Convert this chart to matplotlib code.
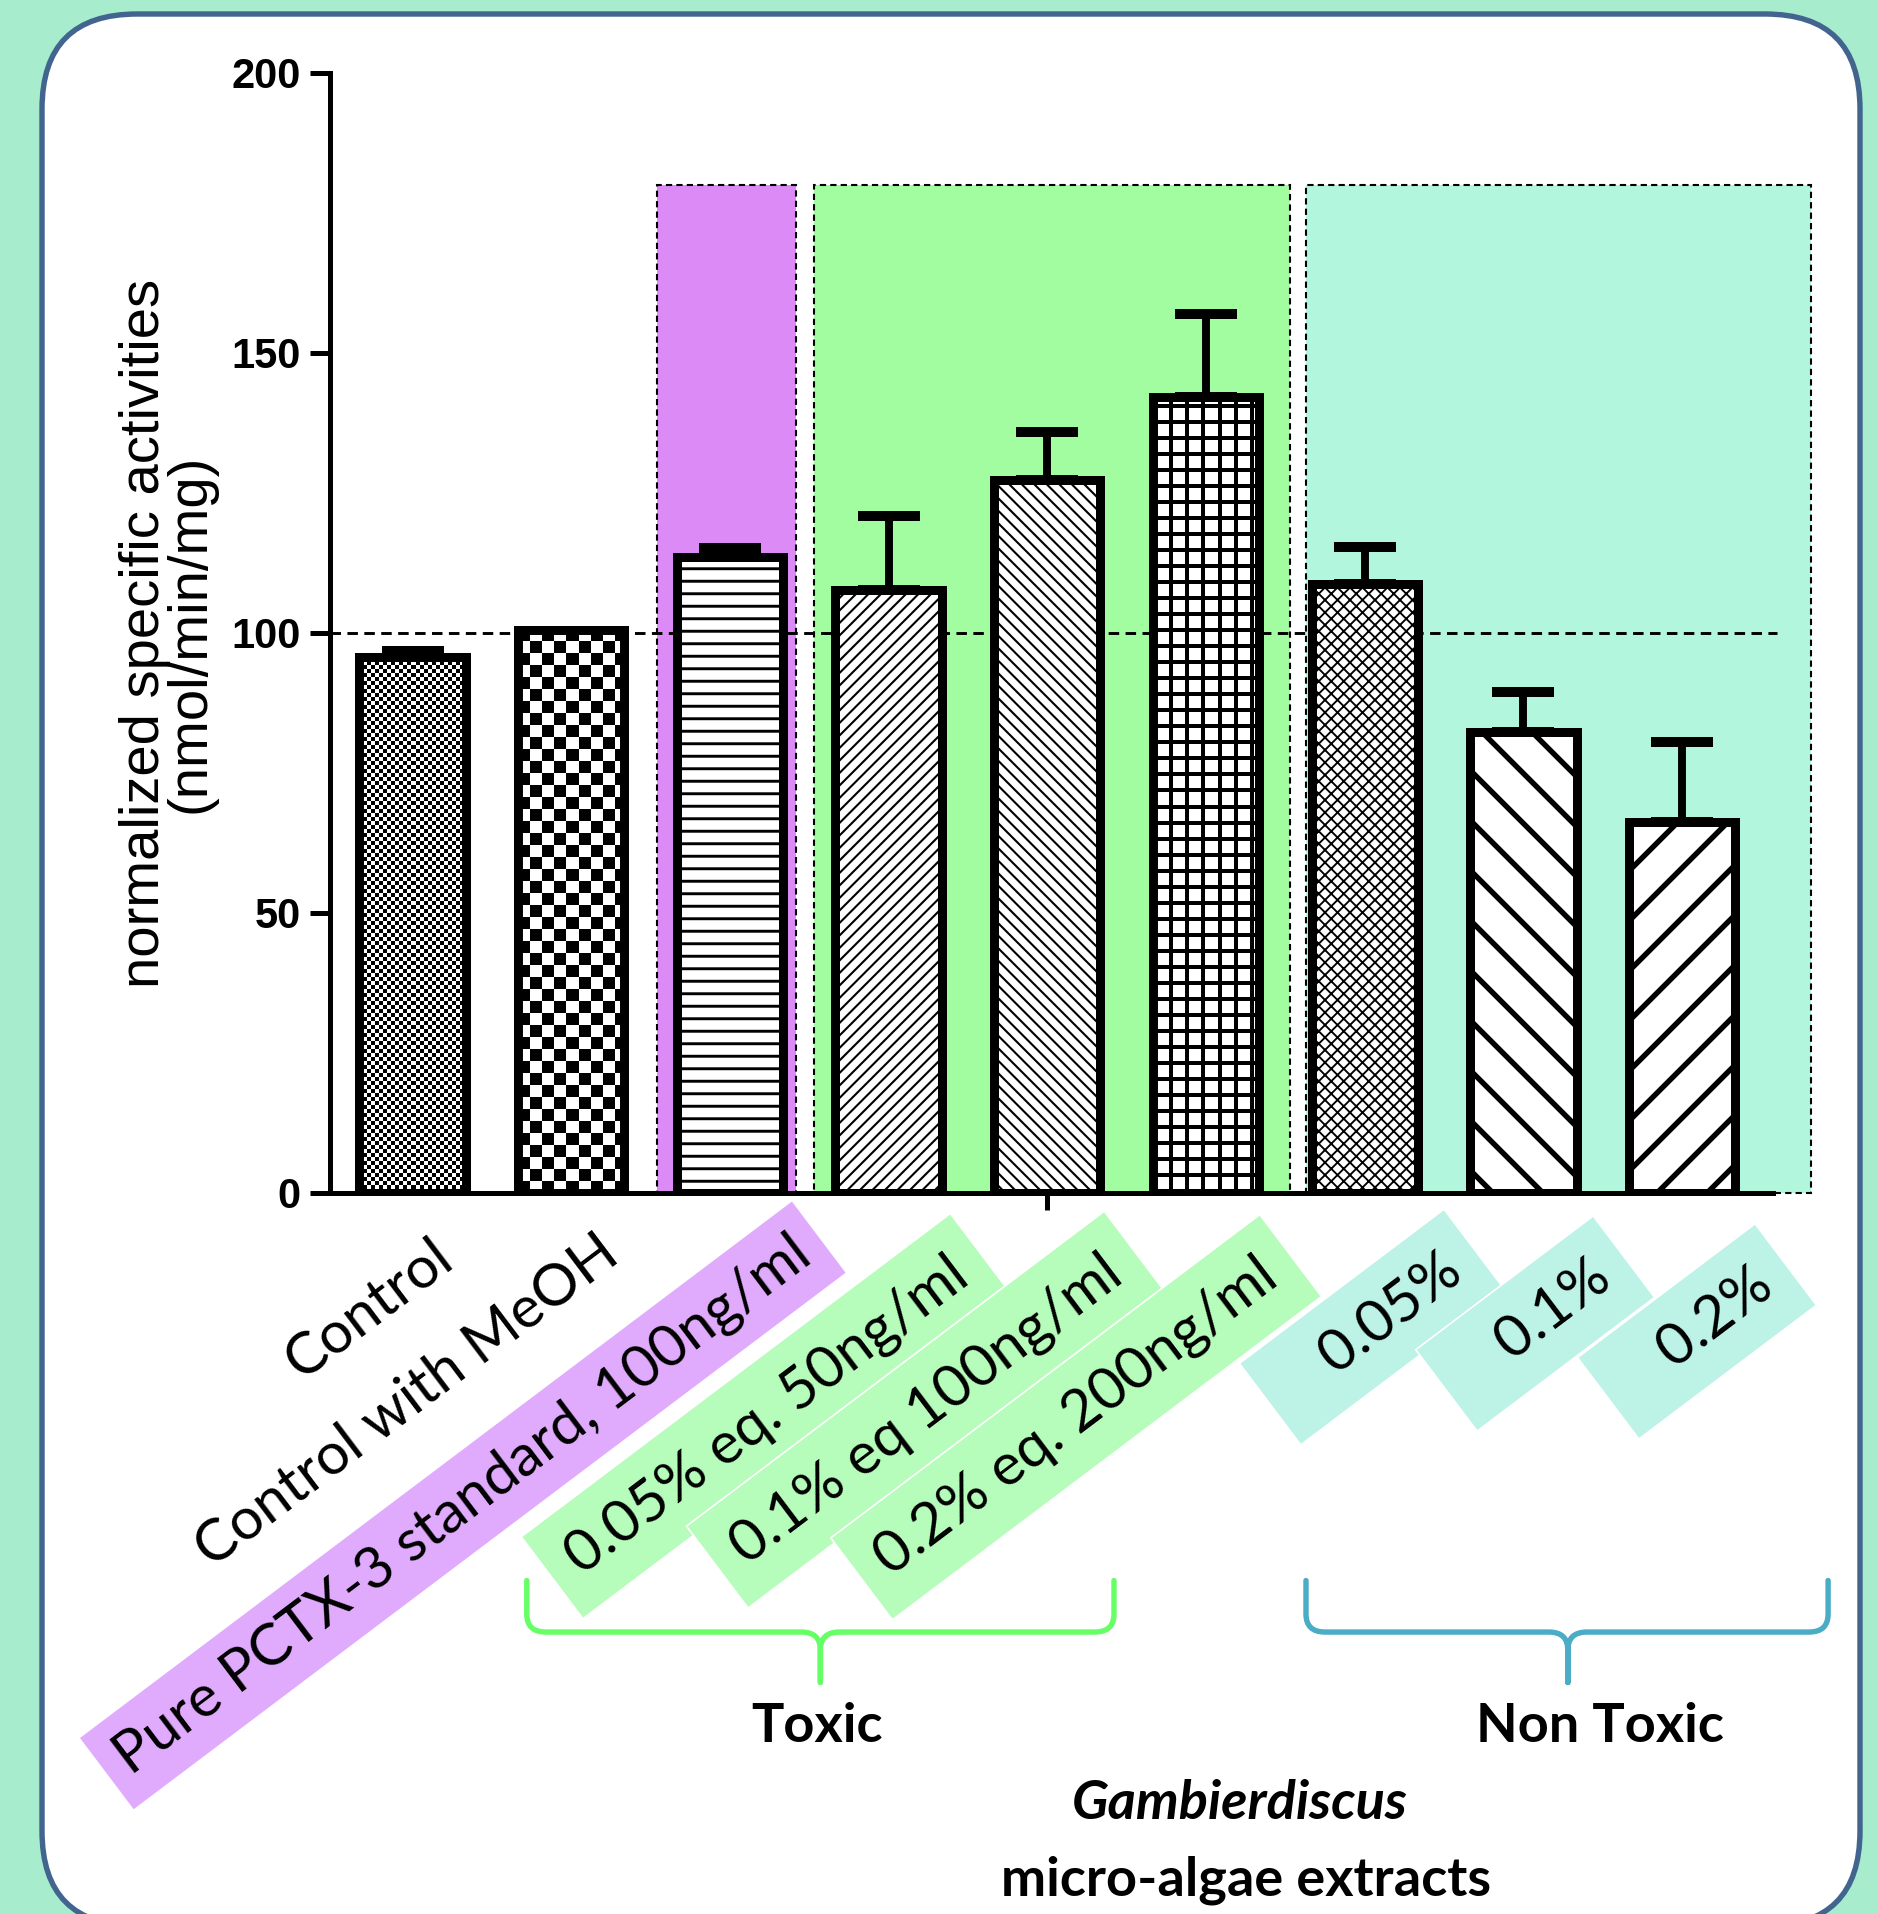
import numpy as np
import matplotlib
matplotlib.use('Agg')
import matplotlib.pyplot as plt
from matplotlib.patches import Rectangle, FancyBboxPatch, PathPatch
from matplotlib.path import Path
from matplotlib.transforms import IdentityTransform, blended_transform_factory

# data
groups = ['Control', 'Control with MeOH', 'Pure PCTX-3 standard, 100ng/ml',
          '0.05% eq. 50ng/ml', '0.1% eq 100ng/ml', '0.2% eq. 200ng/ml',
          '0.05%', '0.1%', '0.2%']
activity = [95.7, 100.5, 113.6, 107.7, 127.3, 142.2, 108.8, 82.4, 66.3]
sem = [1.0, 0.0, 1.6, 13.2, 8.6, 14.8, 6.5, 7.0, 14.2]
yticks = [0, 50, 100, 150, 200]
ref_level = 100
shade_top = 180

# styling
hatches = ['check_fine', 'check', '--', '////', '\\\\\\\\', 'grid', 'xxxx', '\\', '/']
hatch_lw = [1.0, 1.0, 1.4, 1.0, 1.0, 1.9, 0.9, 2.6, 2.6]
box_colors = [None, None, '#e0abfc', '#b6fcba', '#b6fcba', '#b6fcba',
              '#bdf2e7', '#bdf2e7', '#bdf2e7']
box_pad = [0, 0, 0.32, 0.42, 0.42, 0.42, 0.42, 0.42, 0.42]
label_pad = ['', '', '', '', '', '', '   ', '   ', '   ']
label_dx = [0.21, 0.26, 0.47, 0.46, 0.43, 0.41, 0.57, 0.51, 0.53]
label_y = [-0.052, -0.048, -0.049, -0.068, -0.066, -0.069, -0.064, -0.070, -0.077]
region_x = [(1.54, 2.415), (2.53, 5.53), (5.63, 8.815)]
region_colors = ['#dc8af6', '#a2fda0', '#b3f6de']

DPI = 150
fig = plt.figure(figsize=(1877 / DPI, 1914 / DPI), dpi=DPI)
fig.patch.set_facecolor('#a8ecce')
panel = FancyBboxPatch((42, -12), 1818, 1912, boxstyle='round,pad=0,rounding_size=95',
                       transform=IdentityTransform(), facecolor='white',
                       edgecolor='#41658f', lw=2.6, zorder=-10)
fig.patches.append(panel)

ax = fig.add_axes([330 / 1877, 721 / 1914, 1487 / 1877, 1120 / 1914])
ax.patch.set_alpha(0)
ax.set_xlim(-0.52, 8.85)
ax.set_ylim(0, 200)

x = np.arange(len(groups))
w = 0.67

# shaded groups
for (a, b), c in zip(region_x, region_colors):
    ax.add_patch(Rectangle((a, 0), b - a, shade_top, facecolor=c, edgecolor='black',
                           lw=1.0, linestyle=(0, (3, 2)), zorder=0.5, clip_on=False))

ax.hlines(ref_level, -0.52, 8.6, colors='black', lw=1.4, linestyles=(0, (3.6, 2.2)), zorder=1)

px_x = ax.transData.transform((1, 0))[0] - ax.transData.transform((0, 0))[0]
px_y = ax.transData.transform((0, 1))[1] - ax.transData.transform((0, 0))[1]


def texture(kind, nx, ny):
    jj, ii = np.indices((ny, nx))
    if kind == 'check_fine':
        return ((ii // 4 + jj // 4) % 2).astype(float)
    if kind == 'check':
        return ((ii // 12 + jj // 12) % 2).astype(float)
    # grid: black lines 4 px wide every 16 px
    return 1.0 - (((ii % 16) < 4) | ((jj % 16) < 4)).astype(float)


for i in range(len(groups)):
    with plt.rc_context({'hatch.linewidth': hatch_lw[i]}):
        b = ax.bar(x[i], activity[i], w, color='white', edgecolor='black', lw=4.3, zorder=3)[0]
    if hatches[i] in ('check_fine', 'check', 'grid'):
        nx = int(round(w * px_x))
        ny = int(round(activity[i] * px_y))
        im = ax.imshow(texture(hatches[i], nx, ny), cmap='gray', vmin=0, vmax=1,
                       extent=(x[i] - w / 2, x[i] + w / 2, 0, activity[i]),
                       origin='lower', interpolation='nearest', aspect='auto', zorder=3.1)
        im.set_clip_path(b)
    else:
        b.set_hatch(hatches[i])
    if hasattr(b, 'set_hatch_linewidth'):
        b.set_hatch_linewidth(hatch_lw[i])
    ax.bar(x[i], activity[i], w, fill=False, edgecolor='black', lw=4.3, zorder=3.2)

has_err = np.array(sem) > 0
ax.errorbar(x[has_err], np.array(activity)[has_err],
            yerr=[np.zeros(has_err.sum()), np.array(sem)[has_err]], fmt='none', ecolor='black',
            elinewidth=3.8, capsize=15, capthick=4.8, zorder=3.3)

ax.set_xlim(-0.52, 8.85)
ax.set_ylim(0, 200)

for s in ['top', 'right']:
    ax.spines[s].set_visible(False)
for s in ['left', 'bottom']:
    ax.spines[s].set_linewidth(2.4)
ax.spines['bottom'].set_bounds(-0.52, 8.57)
ax.set_yticks(yticks)
ax.set_yticklabels([str(t) for t in yticks], family='Liberation Sans', weight='bold', fontsize=20)
ax.tick_params(axis='y', length=9.6, width=2.4, pad=4.5)
ax.set_xticks([4])
ax.set_xticklabels([''])
ax.tick_params(axis='x', length=8, width=2.4)

ax.set_ylabel('normalized specific activities\n(nmol/min/mg)', family='Liberation Sans',
              fontsize=27, linespacing=0.85, va='center')
ax.yaxis.set_label_coords(-0.109, 0.5)

trans = blended_transform_factory(ax.transData, ax.transAxes)
for i, g in enumerate(groups):
    kw = {}
    if box_colors[i]:
        kw['bbox'] = dict(boxstyle='square,pad=%.2f' % box_pad[i], facecolor=box_colors[i],
                          edgecolor='white', lw=0.8)
    ax.text(x[i] + label_dx[i], label_y[i], label_pad[i] + g, transform=trans, rotation=37,
            rotation_mode='anchor', ha='right', va='center', fontsize=28, family='Lato',
            zorder=5 + i, **kw)


def brace(x0, x1, xc, color):
    yt, yh, yb = -0.346, -0.392, -0.437
    r, d = 0.016, 0.12
    verts = [(x0, yt), (x0, yh + r), (x0, yh), (x0 + d, yh),
             (xc - d, yh), (xc, yh), (xc, yh - r), (xc, yb),
             (xc, yh - r), (xc, yh), (xc + d, yh),
             (x1 - d, yh), (x1, yh), (x1, yh + r), (x1, yt)]
    codes = [Path.MOVETO, Path.LINETO, Path.CURVE3, Path.CURVE3,
             Path.LINETO, Path.CURVE3, Path.CURVE3, Path.LINETO,
             Path.LINETO, Path.CURVE3, Path.CURVE3,
             Path.LINETO, Path.CURVE3, Path.CURVE3, Path.LINETO]
    ax.add_patch(PathPatch(Path(verts, codes), fill=False, edgecolor=color, lw=2.6,
                           transform=trans, clip_on=False, capstyle='round', joinstyle='round'))


brace(0.72, 4.42, 2.57, '#66ff66')
brace(5.63, 8.92, 7.28, '#4bacc6')
ax.text(2.55, -0.476, 'Toxic', transform=trans, ha='center', va='center',
        fontsize=26, family='Lato', weight='bold')
ax.text(7.48, -0.476, 'Non Toxic', transform=trans, ha='center', va='center',
        fontsize=26, family='Lato', weight='bold')
ax.text(5.21, -0.545, 'Gambierdiscus', transform=trans, ha='center', va='center',
        fontsize=26, family='Lato', weight='bold', style='italic')
ax.text(5.25, -0.614, 'micro-algae extracts', transform=trans, ha='center', va='center',
        fontsize=26, family='Lato', weight='bold')

fig.savefig('out.png', dpi=DPI)
